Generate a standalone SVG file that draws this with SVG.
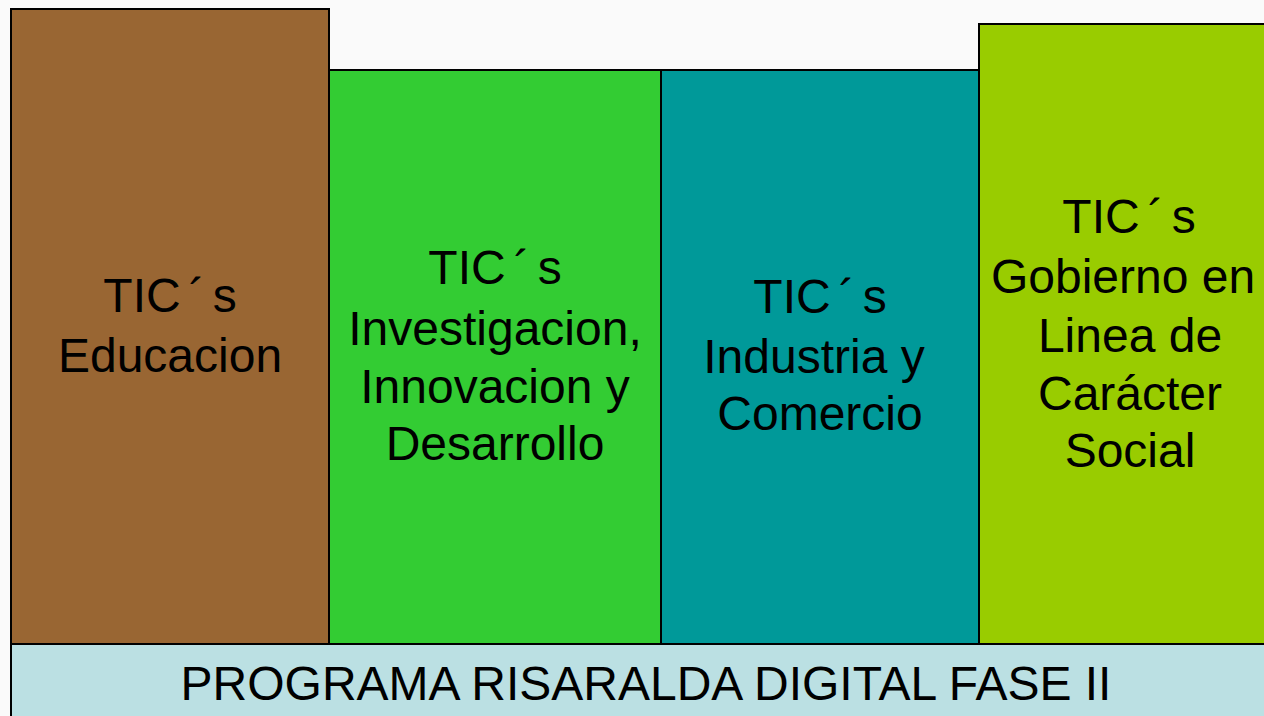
<svg xmlns="http://www.w3.org/2000/svg" width="1264" height="716" viewBox="0 0 1264 716">
<style>
.box{stroke:#000;stroke-width:2}
.t{font-family:"Liberation Sans",Arial,sans-serif;font-size:48px;fill:#000;text-anchor:middle}
</style>
<rect width="1264" height="716" fill="#fafafa"/>
<g id="educacion">
<rect class="box" x="11" y="9" width="318" height="635" fill="#996633"/>
<text class="t" x="170" y="312">TIC<tspan dx="8">´</tspan><tspan dx="8">s</tspan></text>
<text class="t" x="170" y="372">Educacion</text>
</g>
<g id="investigacion">
<rect class="box" x="329" y="70" width="332" height="574" fill="#33cc33"/>
<text class="t" x="495" y="284">TIC<tspan dx="8">´</tspan><tspan dx="8">s</tspan></text>
<text class="t" x="495" y="345">Investigacion,</text>
<text class="t" x="495" y="403">Innovacion y</text>
<text class="t" x="495" y="460">Desarrollo</text>
</g>
<g id="industria">
<rect class="box" x="661" y="70" width="318" height="574" fill="#009999"/>
<text class="t" x="820" y="313">TIC<tspan dx="8">´</tspan><tspan dx="8">s</tspan></text>
<text class="t" x="814" y="373">Industria y</text>
<text class="t" x="820" y="430">Comercio</text>
</g>
<g id="gobierno">
<rect class="box" x="979" y="24" width="300" height="620" fill="#99cc00"/>
<text class="t" x="1129" y="233">TIC<tspan dx="8">´</tspan><tspan dx="8">s</tspan></text>
<text class="t" x="1123" y="293">Gobierno en</text>
<text class="t" x="1130" y="352">Linea de</text>
<text class="t" x="1130" y="410">Carácter</text>
<text class="t" x="1130" y="467">Social</text>
</g>
<g id="programa">
<rect class="box" x="11" y="644" width="1268" height="90" fill="#bbe0e3"/>
<text class="t" x="646" y="700">PROGRAMA RISARALDA DIGITAL FASE II</text>
</g>
<g id="connectors"/>
</svg>
